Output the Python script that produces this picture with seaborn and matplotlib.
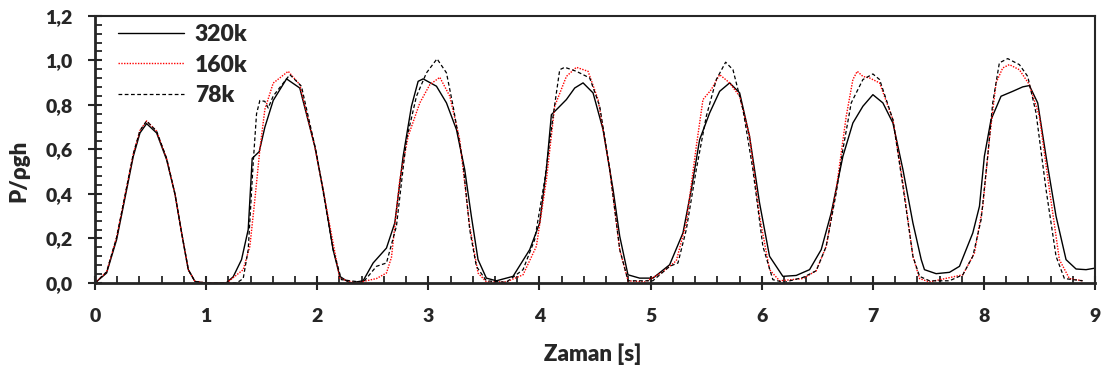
import numpy as np
import pandas as pd
import seaborn as sns
import matplotlib
matplotlib.use('Agg')
import matplotlib.pyplot as plt
from matplotlib import ticker

t_320 = [0.0, 0.105, 0.195, 0.255, 0.345, 0.405, 0.465, 0.555, 0.645, 0.72, 0.78, 0.84, 0.9, 1.0, 1.18,
         1.244, 1.319, 1.379, 1.415, 1.478, 1.529, 1.604, 1.724, 1.843, 1.978, 2.053, 2.143, 2.203, 2.293,
         2.413, 2.503, 2.623, 2.698, 2.773, 2.848, 2.908, 2.953, 3.073, 3.163, 3.253, 3.327, 3.387, 3.447,
         3.522, 3.612, 3.762, 3.912, 4.002, 4.062, 4.107, 4.167, 4.242, 4.317, 4.392, 4.482, 4.572, 4.662,
         4.722, 4.796, 4.901, 5.021, 5.171, 5.291, 5.366, 5.441, 5.531, 5.621, 5.711, 5.801, 5.89, 5.98,
         6.07, 6.19, 6.31, 6.43, 6.535, 6.625, 6.73, 6.82, 6.91, 7.0, 7.09, 7.18, 7.27, 7.36, 7.435, 7.464,
         7.569, 7.689, 7.779, 7.899, 7.959, 8.003, 8.063, 8.153, 8.258, 8.348, 8.408, 8.483, 8.558, 8.648,
         8.738, 8.828, 8.918, 9.0]
v_320 = [0.0, 0.045, 0.195, 0.344, 0.569, 0.674, 0.716, 0.674, 0.554, 0.40, 0.225, 0.06, 0.007, 0.0, 0.0,
         0.028, 0.105, 0.24, 0.56, 0.59, 0.70, 0.82, 0.917, 0.876, 0.614, 0.42, 0.15, 0.03, 0.0,
         0.01, 0.09, 0.157, 0.27, 0.569, 0.794, 0.906, 0.917, 0.884, 0.809, 0.689, 0.51, 0.30, 0.105,
         0.022, 0.01, 0.03, 0.15, 0.27, 0.51, 0.756, 0.786, 0.824, 0.876, 0.899, 0.854, 0.689, 0.42,
         0.21, 0.037, 0.022, 0.022, 0.082, 0.225, 0.42, 0.644, 0.764, 0.861, 0.899, 0.854, 0.659, 0.36,
         0.12, 0.03, 0.034, 0.06, 0.15, 0.315, 0.569, 0.719, 0.794, 0.846, 0.809, 0.719, 0.51, 0.27, 0.105, 0.06,
         0.042, 0.048, 0.075, 0.225, 0.345, 0.569, 0.734, 0.839, 0.861, 0.881, 0.887, 0.809, 0.569, 0.30,
         0.105, 0.063, 0.06, 0.067]

t_160 = [0.0, 0.105, 0.195, 0.255, 0.345, 0.405, 0.465, 0.555, 0.645, 0.72, 0.78, 0.84, 0.9, 1.0, 1.184,
         1.334, 1.394, 1.439, 1.484, 1.529, 1.604, 1.739, 1.843, 1.978, 2.143, 2.203, 2.35, 2.533, 2.623,
         2.668, 2.743, 2.818, 2.923, 3.013, 3.103, 3.193, 3.282, 3.372, 3.447, 3.522, 3.7, 3.852, 3.972,
         4.062, 4.137, 4.242, 4.332, 4.437, 4.527, 4.632, 4.722, 4.797, 4.95, 5.111, 5.231, 5.321, 5.411,
         5.471, 5.546, 5.621, 5.711, 5.801, 5.89, 5.98, 6.07, 6.16, 6.37, 6.49, 6.58, 6.67, 6.76, 6.82,
         6.859, 6.91, 6.97, 7.06, 7.18, 7.27, 7.36, 7.42, 7.509, 7.809, 7.914, 7.989, 8.048, 8.108, 8.168,
         8.228, 8.318, 8.408, 8.498, 8.588, 8.678, 8.768, 8.888]
v_160 = [0.0, 0.05, 0.205, 0.355, 0.58, 0.685, 0.728, 0.682, 0.56, 0.40, 0.225, 0.06, 0.007, 0.0, 0.0,
         0.06, 0.165, 0.375, 0.60, 0.78, 0.898, 0.951, 0.891, 0.614, 0.18, 0.02, 0.0, 0.02, 0.045,
         0.115, 0.463, 0.659, 0.809, 0.891, 0.924, 0.839, 0.644, 0.255, 0.045, 0.005, 0.005, 0.037, 0.165,
         0.463, 0.794, 0.928, 0.969, 0.951, 0.824, 0.51, 0.15, 0.01, 0.005, 0.05, 0.10, 0.27, 0.614,
         0.824, 0.869, 0.936, 0.899, 0.839, 0.659, 0.30, 0.06, 0.01, 0.02, 0.055, 0.165, 0.42, 0.749, 0.914,
         0.951, 0.928, 0.921, 0.899, 0.734, 0.45, 0.12, 0.02, 0.005, 0.037, 0.135, 0.345, 0.644, 0.899, 0.966,
         0.981, 0.958, 0.891, 0.749, 0.42, 0.105, 0.02, 0.01]

t_78 = [0.0, 0.105, 0.195, 0.255, 0.345, 0.405, 0.465, 0.555, 0.645, 0.72, 0.78, 0.84, 0.9, 1.0, 1.274,
        1.334, 1.379, 1.424, 1.454, 1.484, 1.529, 1.559, 1.604, 1.754, 1.858, 1.993, 2.143, 2.218, 2.413,
        2.533, 2.623, 2.713, 2.803, 2.893, 2.983, 3.078, 3.163, 3.223, 3.312, 3.372, 3.432, 3.522, 3.7,
        3.852, 3.957, 4.047, 4.122, 4.182, 4.227, 4.332, 4.452, 4.542, 4.632, 4.722, 4.797, 5.02, 5.171,
        5.246, 5.321, 5.411, 5.501, 5.591, 5.675, 5.741, 5.831, 5.92, 6.01, 6.1, 6.2, 6.37, 6.49, 6.58,
        6.67, 6.73, 6.805, 6.91, 7.0, 7.06, 7.18, 7.27, 7.36, 7.42, 7.509, 7.689, 7.809, 7.899, 7.974,
        8.033, 8.078, 8.138, 8.213, 8.318, 8.393, 8.468, 8.558, 8.648, 8.723, 8.888]
v_78 = [0.0, 0.05, 0.205, 0.355, 0.58, 0.685, 0.728, 0.682, 0.56, 0.40, 0.225, 0.06, 0.007, 0.0, 0.0,
        0.02, 0.15, 0.54, 0.76, 0.82, 0.816, 0.786, 0.84, 0.936, 0.884, 0.584, 0.15, 0.015, 0.003,
        0.075, 0.09, 0.256, 0.644, 0.839, 0.944, 1.007, 0.944, 0.794, 0.539, 0.24, 0.075, 0.01, 0.003,
        0.06, 0.195, 0.463, 0.749, 0.958, 0.969, 0.951, 0.921, 0.794, 0.51, 0.15, 0.01, 0.01, 0.075,
        0.09, 0.24, 0.51, 0.749, 0.914, 0.992, 0.958, 0.779, 0.51, 0.165, 0.015, 0.003, 0.025, 0.055, 0.165,
        0.405, 0.60, 0.809, 0.914, 0.939, 0.914, 0.734, 0.435, 0.12, 0.03, 0.01, 0.01, 0.037, 0.12, 0.285,
        0.569, 0.809, 0.989, 1.008, 0.981, 0.928, 0.764, 0.42, 0.12, 0.02, 0.01]

sns.set_style('ticks')
plt.rcParams['font.family'] = ['Lato', 'DejaVu Sans']
plt.rcParams['font.weight'] = 'heavy'

fig = plt.figure(figsize=(11.04, 3.69), dpi=100)
ax = fig.add_axes([0.086, 0.233, 0.906, 0.724])

sns.lineplot(x=t_320, y=v_320, ax=ax, color='black', lw=1.0, label='320k', estimator=None)
sns.lineplot(x=t_160, y=v_160, ax=ax, color='red', lw=1.0, linestyle=(0, (1, 1)), label='160k', estimator=None)
sns.lineplot(x=t_78, y=v_78, ax=ax, color='black', lw=0.9, linestyle=(0, (3, 2)), label='78k', estimator=None)

ax.set_xlim(0, 9)
ax.set_ylim(0, 1.2)
ax.xaxis.set_major_locator(ticker.MultipleLocator(1))
ax.xaxis.set_minor_locator(ticker.MultipleLocator(0.2))
ax.yaxis.set_major_locator(ticker.MultipleLocator(0.2))
ax.yaxis.set_minor_locator(ticker.MultipleLocator(0.04))
ax.yaxis.set_major_formatter(ticker.FuncFormatter(lambda v, p: f'{v:.1f}'.replace('.', ',')))
ax.xaxis.set_major_formatter(ticker.FuncFormatter(lambda v, p: f'{v:.0f}'))

ax.tick_params(which='major', direction='inout', length=10, width=1.5, labelsize=14)
ax.tick_params(axis='x', which='major', pad=13)
ax.tick_params(axis='y', which='major', pad=11)
ax.tick_params(which='minor', direction='in', length=5, width=1.3)
for s in ['left', 'bottom']:
    ax.spines[s].set_linewidth(2)
for s in ['top', 'right']:
    ax.spines[s].set_linewidth(1.5)

ax.set_xlabel('Zaman [s]', fontsize=16, fontweight='heavy')
ax.set_ylabel('P/ρgh', fontsize=16, fontweight='heavy')
ax.xaxis.set_label_coords(0.498, -0.225)
ax.yaxis.set_label_coords(-0.066, 0.42)

leg = ax.legend(loc='upper left', frameon=False, fontsize=16.5, handlelength=2.9,
                handletextpad=0.45, labelspacing=0.42, borderaxespad=0, borderpad=0,
                bbox_to_anchor=(0.023, 0.97))
for txt in leg.get_texts():
    txt.set_fontweight('heavy')

fig.savefig('out.png', dpi=100)
